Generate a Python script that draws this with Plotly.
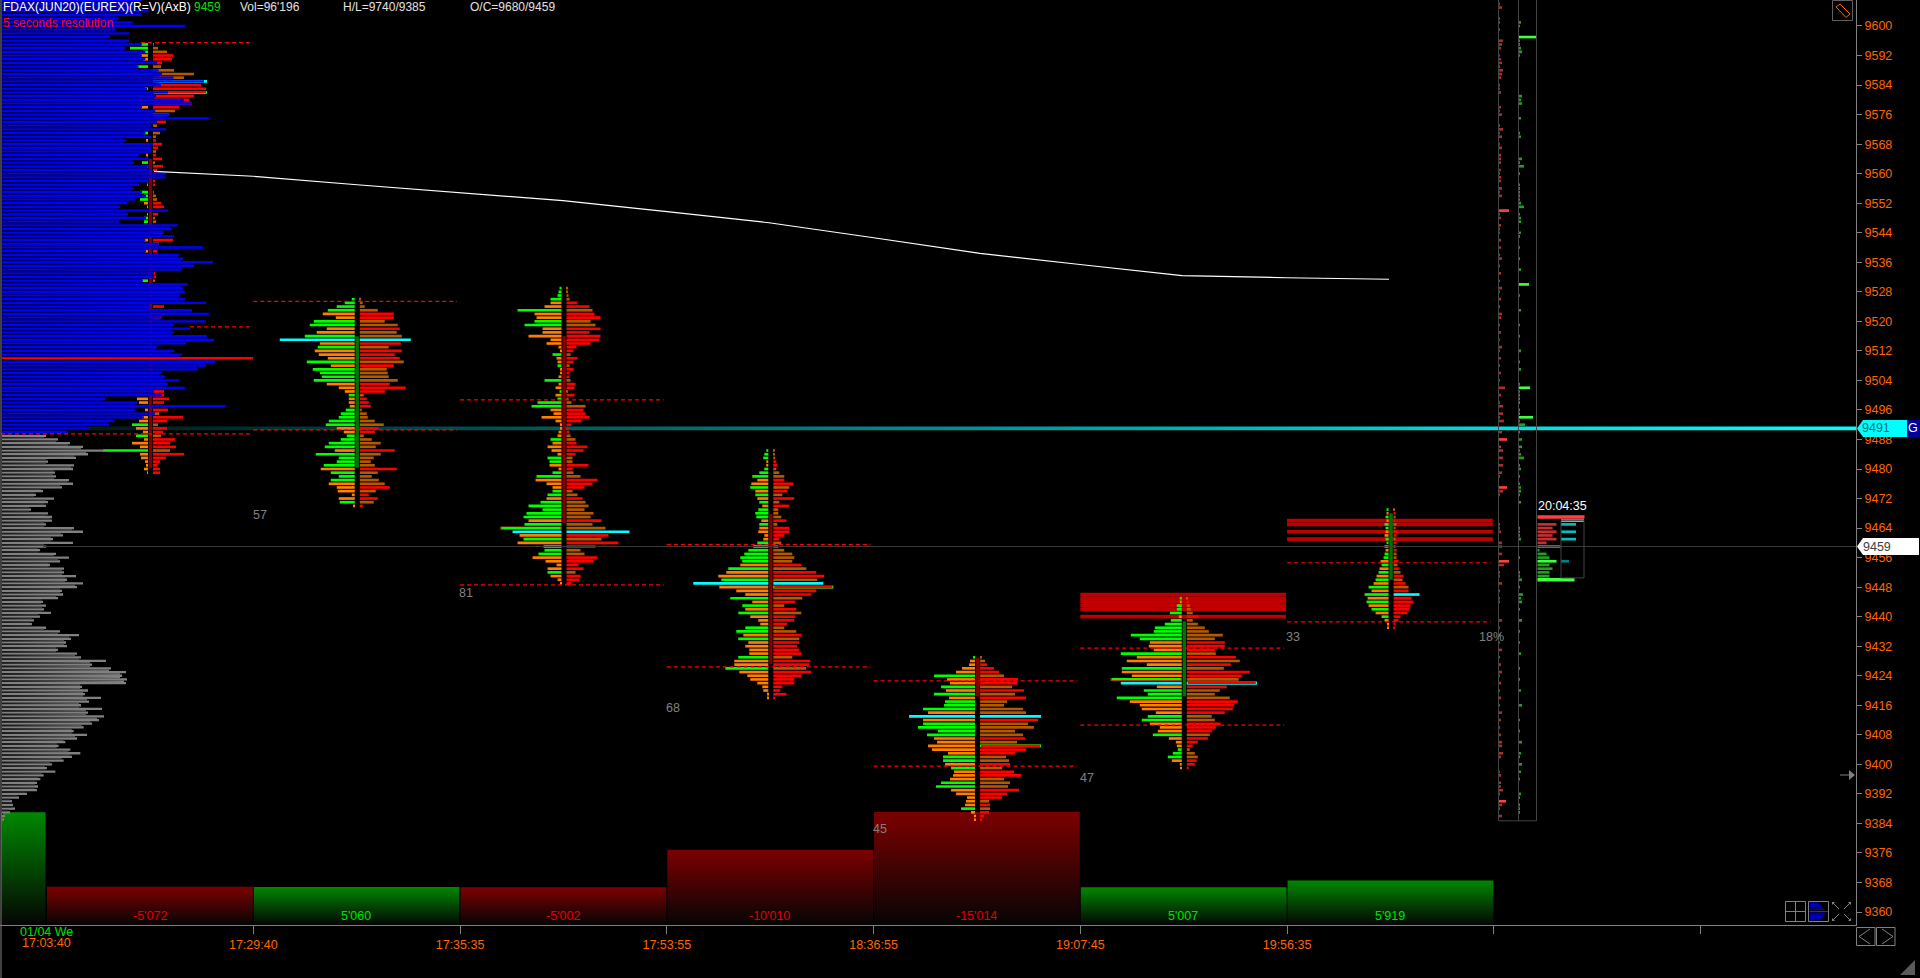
import plotly.graph_objects as go

W, H = 1920, 978
FONT = "Liberation Sans"
ORANGE = "#ff6600"
GREY = "#808080"

# time axis, one slot per profile
SLOT_START = 46.5
SLOT_W = 206.76
AXIS_X = 1856
TIME_LABELS = ["17:29:40", "17:35:35", "17:53:55", "18:36:55", "19:07:45", "19:56:35", "", ""]
PRICE_TICKS = list(range(9360, 9601, 8))

# delta histogram along the bottom (first one is the cut off session before the first slot)
DELTA_VALUES = [14990, -5072, 5060, -5002, -10010, -15014, 5007, 5919]
DELTA_LABELS = ["", "-5'072", "5'060", "-5'002", "-10'010", "-15'014", "5'007", "5'919"]

# session volume profile on the left, top row is 9607
HIST_TOP = 9607
HIST_BLUE = [420, 400, 400, 440, 420, 350, 393, 550, 340, 381, 324, 381, 420, 370, 430, 420, 430, 465, 410, 470,
             480, 515, 606, 477, 435, 498, 462, 546, 570, 420, 460, 504, 621, 465, 447, 492, 430, 447, 372, 453,
             447, 447, 411, 440, 396, 440, 447, 492, 492, 440, 411, 396, 420, 432, 400, 375, 354, 498, 378, 432,
             351, 528, 510, 486, 516, 430, 470, 603, 432, 531, 543, 633, 576, 540, 456, 456, 423, 558, 543, 549,
             534, 549, 612, 447, 570, 621, 480, 612, 516, 564, 516, 615, 636, 552, 465, 516, 540, 753, 639, 612,
             588, 477, 489, 531, 498, 549, 456, 480, 310, 405, 669, 400, 459, 426, 333, 321, 264, 198]
HIST_GREY = [132, 168, 204, 243, 309, 258, 222, 138, 216, 213, 159, 162, 201, 213, 180, 123, 102, 156, 138, 132,
             87, 138, 150, 150, 132, 216, 243, 183, 153, 213, 132, 114, 162, 201, 174, 144, 186, 186, 222, 195,
             243, 225, 180, 183, 168, 123, 132, 126, 147, 114, 96, 90, 132, 174, 231, 207, 192, 195, 168, 225,
             237, 312, 270, 327, 372, 360, 375, 372, 240, 258, 249, 297, 261, 237, 300, 258, 306, 291,
             270, 245, 215, 255, 225, 190, 170, 205, 235, 210, 185, 150, 135, 160, 125, 115,
             105, 108, 105, 75, 51, 30, 33, 39, 24, 9, 6]
HIST_POC = 9510

# footprint profiles. bid: + green, - orange. ask: + brown, - red
P0_TOP = 9595
P0_BID = [7, 18, 5, -7, -5, 0, 11, 0, 0, 0, 0, 0, -3, 0, 0, 0, 0, -7, 0, 0,
          0, 0, 0, 0, 5, 0, -2, 0, 0, 0, -2, -1, 6, -1, 0, 0, 0, -1, -1, 0,
          8, 4, 8, -4, -1, 0, -1, 4, 4, 0, 0, 0, 0, -4, 0, 0, -3, 0, 0, 0,
          0, 0, 0, 0, 6, 0, 0, 0, 0, 0, 0, 0, 0, 0, 0, 0, 0, 0, 0, 0,
          0, 0, 0, 0, 0, 0, 0, 0, 0, 0, 0, 0, 0, 0, 0, 0, -11, -9, 0, -3,
          0, -6, -9, 16, -12, -5, 12, -4, -16, -8, 45, -8, -7, -3, -2, -4, -1]
P0_ASK = [1, 5, 14, -20, -19, -9, 8, 21, 41, 31, 54, -48, -53, 54, -41, -36, -39, -26, 22, 16,
          0, -13, 4, 0, 7, 3, -3, -9, -5, 3, -3, -9, 2, -10, -4, 0, 0, -2, -2, 0,
          1, 3, 4, -8, -11, 0, -5, 2, 3, 0, 0, -10, 0, -20, 6, 0, -4, 0, 0, 0,
          0, 0, -2, -3, 2, 0, 0, 0, 0, 0, 0, -11, 0, 0, -8, 0, 0, 0, 0, 0,
          0, 0, -3, 0, 0, 0, 0, 0, 0, 0, 0, 0, 0, 0, -11, -11, -16, -11, 0, -15,
          6, -30, -14, 5, -14, -10, 8, -22, -17, -23, 17, -31, -13, -7, -4, -7, -7]

P1_TOP = 9526
P1_BID = [3, 10, 18, 27, -32, -19, 41, 45, -28, -38, 50, 75, -35, 37, -40, -36, -27, 48, -24, 42,
          35, 33, 41, -28, -16, -10, 6, -6, -6, -5, 9, 14, 16, 26, 29, -18, -11, 8, 14, 26,
          30, -20, 39, 16, 18, 31, -34, 24, 16, 24, -26, -18, -17, -3, -16, 15, -1]
P1_ASK = [1, 3, 5, 18, -34, -34, 25, 38, -40, 37, 42, 51, -41, 29, -42, -35, -40, 44, -34, 27,
          28, 29, 38, -30, -46, -25, 4, -7, -9, -11, 2, 7, 8, 15, 24, -19, -15, 4, 12, 21,
          16, -35, 21, 14, 11, 15, -37, 18, 12, 19, 25, -30, 16, -9, -18, 14, -3]

P2_TOP = 9529
P2_BID = [2, 3, 4, 11, -11, -17, 44, -27, -25, 27, 37, -19, -19, -33, -11, -15, -3, -1, 9, -5,
          -4, 4, -1, -1, -3, 17, -3, -6, 2, -6, 4, 24, 30, -11, -8, -20, -6, -1, -1, -3,
          -4, 11, -9, -14, -10, -4, 14, 12, -12, -3, 9, 25, -26, -15, -9, 9, 14, -15, 21, 33,
          19, 35, 38, -33, 37, 61, 49, -42, 38, -44, -18, 17, 23, -29, -16, -5, -14, 14, -11, -4, -1]
P2_ASK = [1, 1, 2, 3, -11, -23, 26, -28, -34, 24, 29, -34, -23, -34, -33, -24, -10, -7, 4, -11,
          -7, 3, -7, -3, -3, 4, -9, -8, 1, -8, 2, 5, 19, -17, -19, -23, -15, -5, -2, -3,
          4, 9, -10, -21, -17, -9, 6, 6, -22, -6, 7, 14, -31, -26, -18, 6, 11, -16, 19, 22,
          18, 27, 24, -35, 26, 39, 63, -42, 35, -52, -29, 14, 18, -31, -27, -12, -17, 9, -14, -13, -5]

P3_TOP = 9485
P3_BID = [2, 4, 5, -2, -2, 4, 9, 16, -11, -17, 18, -13, 13, -11, 9, -6, 10, 13, 12, -7,
          9, -9, -10, -4, -5, 11, 15, 20, 24, 28, 26, -28, 40, -42, -50, 47, 75, -49, -32, -23,
          38, -16, 26, -23, 30, -18, -10, -8, 23, 32, -25, 30, -20, -23, -19, -19, 30, -34, -34, 43,
          -29, -21, -18, -11, -6, -5, -1, -1]
P3_ASK = [1, 1, 2, -3, -4, 3, 6, 11, -11, -20, 16, -14, 9, -21, 6, -16, 5, 5, 8, -13,
          4, -16, -16, -11, -6, 8, 5, 11, 19, 21, 19, -28, 33, -43, -51, 44, 50, -60, -43, -38,
          29, -22, 11, -23, 28, -22, -21, -14, 11, 23, -28, 26, -26, -24, -26, -28, 19, -37, -36, 33,
          -38, -28, -21, -21, -9, -7, -13, -2]

P4_TOP = 9429
P4_BID = [2, -5, -6, -13, -19, 41, -28, -25, 34, -29, 41, -26, 30, 31, 52, -47, 66, -52, 52, 57,
          37, 48, -41, -38, -47, -43, -27, 32, 32, -30, 24, -21, -22, -25, 34, 39, -24, -19, -8, -9,
          -10, 14, -4, -1, -1]
P4_ASK = [1, 5, -7, -14, -19, 24, -38, -37, 32, -44, 35, -46, 27, 24, 43, 46, 61, -58, 48, 54,
          35, 43, -45, 37, -61, -46, -35, 26, 29, -30, 22, -34, -41, 24, 30, 28, -39, -27, -22, 9,
          -10, 10, -9, -4, -2]

P5_TOP = 9445
P5_BID = [2, -2, 5, 5, 12, -3, 11, 17, 27, 28, 51, 42, -32, -33, -28, 61, -45, -55, -35, 60,
          -60, -50, 71, 61, -25, 38, 34, 65, -52, -42, -40, -26, 34, 40, -32, -22, -24, 29, -13, -6,
          -5, 4, 9, 14, -10, -2, -1]
P5_ASK = [1, -2, 3, 4, 6, -12, 6, 11, 18, 22, 36, 28, -38, -38, -28, 29, -49, 53, -44, 37,
          -63, -55, 52, 70, -40, 33, 28, 43, -51, -47, -46, -38, 25, 28, -34, -29, -25, 23, -21, -11,
          -6, 3, 8, 11, -10, -8, -2]

P6_TOP = 9469
P6_BID = [2, -2, 3, -2, 4, 3, -3, -4, 3, 2, 4, -3, 4, 5, -8, 7, -9, 10, -12, 13,
          -15, 20, -17, 24, -21, 22, -20, 17, -13, 7, -4, -1, -1]
P6_ASK = [1, -2, 2, -2, 3, 2, -4, -3, 2, -3, 2, -3, 3, 3, -5, 4, -6, 7, -10, 9,
          -12, 15, -15, 26, -18, -20, -17, -16, -14, -7, -5, -2, -1]

# candle body of each slot: open, close
OPENS = [9564, 9480.4, 9516, 9467.8, 9428.9, 9418.4, 9450]
CLOSES = [9480.3, 9515.9, 9465.3, 9427.2, 9418.4, 9438.7, 9468]
# highest volume row, row with the outlined ask/bid
POC_ROWS = [10, 11, 66, 36, 16, 23, 23]
POC_BID_CYAN = [False, True, True, True, True, True, False]
OUTLINE_BID = [None, None, 65, None, None, 22, None]
OUTLINE_ASK = [13, None, None, 37, 24, 23, None]

# value area lines
VA_PRICES = [9595.5, 9518.5, 9489.5, 9525.4, 9490.6, 9498.7, 9448.6, 9459.5, 9426.4, 9422.6, 9399.5, 9431.5, 9410.6, 9454.6, 9438.6]
VA_SLOTS = [0, 0, 0, 1, 1, 2, 2, 3, 3, 4, 4, 5, 5, 6, 6]
VA_X0 = [141, 190, 1, None, None, None, None, None, None, None, None, None, None, None, None]

# naked POC bands
BAND_SLOTS = [5, 5, 5, 5, 5, 5, 6, 6, 6, 6]
BAND_PRICES = [9446, 9445, 9444, 9443, 9442, 9440, 9466, 9465, 9463, 9461]

# long average line
AVG_X = [154, 253, 357, 456, 563, 667, 769, 872, 980, 1080, 1182, 1286, 1389]
AVG_Y = [9560.6, 9559.3, 9557.0, 9555.0, 9552.7, 9549.7, 9546.7, 9542.7, 9538.4, 9535.4, 9532.4, 9531.8, 9531.4]

LAST_PRICE = 9459
CYAN_PRICE = 9491

# daily profile on the right (two columns)
SELL_PRICES = [9606, 9605, 9602, 9601, 9599, 9596, 9595, 9594, 9592, 9591, 9590, 9589, 9588, 9587, 9586, 9584, 9583, 9582, 9578, 9577,
               9576, 9573, 9572, 9571, 9570, 9568, 9567, 9565, 9564, 9563, 9561, 9560, 9559, 9558, 9556, 9555, 9554, 9550, 9549, 9548,
               9546, 9545, 9544, 9542, 9540, 9538, 9537, 9535, 9533, 9531, 9529, 9528, 9526, 9524, 9522, 9521, 9519, 9517, 9515, 9513,
               9512, 9510, 9508, 9506, 9504, 9502, 9500, 9498, 9497, 9495, 9494, 9493, 9490, 9488, 9486, 9485, 9483, 9481, 9479, 9478,
               9475, 9474, 9473, 9465, 9464, 9463, 9460, 9459, 9457, 9455, 9454, 9452, 9451, 9449, 9447, 9445, 9444, 9439, 9437, 9435,
               9433, 9431, 9429, 9427, 9425, 9424, 9422, 9420, 9418, 9416, 9414, 9412, 9410, 9408, 9406, 9405, 9403, 9402, 9398, 9397,
               9395, 9394, 9393, 9392, 9390, 9389, 9388, 9386]
SELL_VOLS = [1, 3, 1, 1, 1, 4, 3, 2, 1, 2, 3, 1, 4, 3, 2, 1, 1, 2, 2, 1,
             3, 1, 4, 1, 3, 1, 3, 2, 2, 2, 2, 1, 2, 2, 3, 1, 3, 10, 1, 2,
             2, 1, 1, 2, 2, 1, 3, 1, 2, 1, 3, 1, 2, 1, 3, 2, 1, 2, 1, 3,
             1, 2, 1, 2, 1, 6, 2, 1, 4, 4, 1, 5, 3, 8, 2, 4, 4, 4, 3, 1,
             8, 4, 1, 1, 1, 2, 3, 3, 3, 10, 5, 1, 1, 3, 1, 1, 1, 3, 1, 2,
             1, 3, 1, 2, 3, 1, 2, 1, 2, 1, 3, 2, 1, 2, 3, 3, 4, 2, 1, 2,
             2, 2, 4, 1, 7, 3, 1, 3]
BUY_PRICES = [9601, 9600, 9597, 9596, 9595, 9594, 9593, 9592, 9581, 9580, 9579, 9575, 9571, 9570, 9564, 9563, 9562, 9560, 9557, 9556,
              9555, 9554, 9553, 9552, 9551, 9549, 9548, 9547, 9544, 9543, 9540, 9537, 9534, 9530, 9527, 9523, 9519, 9516, 9512, 9509,
              9507, 9503, 9502, 9501, 9500, 9499, 9498, 9496, 9495, 9494, 9493, 9492, 9490, 9488, 9486, 9485, 9484, 9483, 9481, 9480,
              9478, 9476, 9475, 9474, 9473, 9471, 9464, 9463, 9462, 9461, 9456, 9452, 9451, 9450, 9448, 9446, 9445, 9444, 9442, 9439,
              9436, 9433, 9430, 9426, 9423, 9420, 9416, 9412, 9409, 9406, 9403, 9402, 9400, 9398, 9396, 9392, 9391, 9389, 9388, 9387]
BUY_VOLS = [2, 1, 17, 1, 1, 2, 3, 1, 3, 2, 3, 2, 1, 2, 3, 1, 5, 1, 1, 1,
            1, 1, 1, 2, 5, 1, 2, 2, 2, 1, 1, 1, 2, 10, 1, 2, 1, 1, 2, 1,
            2, 1, 11, 1, 1, 1, 1, 1, 1, 14, 1, 6, 1, 3, 3, 1, 2, 5, 1, 2,
            1, 1, 2, 2, 1, 2, 1, 1, 1, 2, 1, 1, 1, 3, 1, 4, 2, 3, 1, 3,
            1, 1, 2, 1, 1, 2, 3, 1, 1, 3, 2, 1, 3, 2, 1, 2, 1, 1, 1, 1]

# last candle detail box after the columns
BOX_SELL_PRICES = [9465, 9464, 9463, 9462, 9461, 9460]
BOX_SELL_VOLS = [19, 15, 19, 15, 19, 9]
BOX_BUY_PRICES = [9458, 9457, 9456, 9455, 9454, 9453, 9452, 9451]
BOX_BUY_VOLS = [2, 9, 12, 19, 12, 15, 12, 12]
BOX_ASK_PRICES = [9466, 9465, 9463, 9461, 9455]
BOX_ASK_VOLS = [23, 15, 15, 15, 8]

ROW = 0.72
Y_TOP = 9600 + 26 / 3.693
Y_BOTTOM = 9360 - 13 / 3.693
Y_DOMAIN = [(H - 925) / H, 1]


def slot_x(i):
    return SLOT_START + SLOT_W * i


def fx(px):
    return px / W


def fy(py):
    return 1 - py / H


fig = go.Figure()

# delta bars sit on their own axis below everything
edges = [(1, SLOT_START - 1)] + [(slot_x(i) + 0.5, slot_x(i + 1) - 0.5) for i in range(7)]
for (x0, x1), value in zip(edges, DELTA_VALUES):
    top_colour = "#008800" if value > 0 else "#7c0000"
    fig.add_trace(go.Scatter(x=[x0, x1, x1, x0, x0], y=[0, 0, abs(value), abs(value), 0], yaxis="y",
                             mode="lines", line=dict(width=0), fill="toself",
                             fillgradient=dict(type="vertical", colorscale=[[0, "#050505"], [1, top_colour]]),
                             hoverinfo="skip", showlegend=False))

# cyan level brightens to the right, under the footprints
fig.add_trace(go.Scatter(x=[88, AXIS_X, AXIS_X, 88, 88],
                         y=[CYAN_PRICE - 0.5, CYAN_PRICE - 0.5, CYAN_PRICE + 0.5, CYAN_PRICE + 0.5, CYAN_PRICE - 0.5],
                         yaxis="y2", mode="lines", line=dict(width=0), fill="toself",
                         fillgradient=dict(type="horizontal", colorscale=[[0, "#001a1a"], [0.8, "#00dcdc"], [1, "#00ffff"]]),
                         hoverinfo="skip", showlegend=False))


def add_bars(base, width, price, colour, thick=ROW):
    fig.add_trace(go.Bar(orientation="h", x=width, base=base, y=price, width=thick, yaxis="y3",
                         marker=dict(color=colour, line=dict(width=0)), hoverinfo="skip", showlegend=False))


add_bars([slot_x(s) for s in BAND_SLOTS], [SLOT_W - 1] * len(BAND_SLOTS), BAND_PRICES, "#c00000", 1.0)

PROFILES = [(P0_TOP, P0_BID, P0_ASK), (P1_TOP, P1_BID, P1_ASK), (P2_TOP, P2_BID, P2_ASK), (P3_TOP, P3_BID, P3_ASK),
            (P4_TOP, P4_BID, P4_ASK), (P5_TOP, P5_BID, P5_ASK), (P6_TOP, P6_BID, P6_ASK)]

for i, (top, bid, ask) in enumerate(PROFILES):
    centre = slot_x(i) + 104
    mid = (OPENS[i] + CLOSES[i]) / 2
    body = abs(CLOSES[i] - OPENS[i])
    add_bars([centre - 1.7], [3.4], [mid], "#007000" if CLOSES[i] > OPENS[i] else "#800000", [body])

    prices = [top - n for n in range(len(bid))]
    bid_colour = ["#00ff00" if v > 0 else "#ff8000" for v in bid]
    ask_colour = ["#b35900" if v > 0 else "#ff0000" for v in ask]
    poc = POC_ROWS[i]
    if POC_BID_CYAN[i]:
        bid_colour[poc] = "#00ffff"
    ask_colour[poc] = "#00ffff"
    add_bars([centre - 2.5 - abs(v) for v in bid], [abs(v) for v in bid], prices, bid_colour)
    add_bars([centre + 2.5] * len(ask), [abs(v) for v in ask], prices, ask_colour)
    # outlined rows: thin inner stripe over the bar
    if OUTLINE_BID[i] is not None:
        n = OUTLINE_BID[i]
        w = abs(bid[n])
        add_bars([centre - 2.5 - w], [w], [prices[n]], "#ff0000")
        add_bars([centre - 2.5 - w + 1], [w - 2], [prices[n]], "#00ff00", 0.25)
    if OUTLINE_ASK[i] is not None:
        n = OUTLINE_ASK[i]
        w = abs(ask[n])
        add_bars([centre + 2.5], [w], [prices[n]], "#00ff00" if n != poc else "#00ffff")
        add_bars([centre + 3.5], [w - 2], [prices[n]], "#ff0000", 0.25)

# session volume profile goes over the first footprint
hist = [v / 3 for v in HIST_BLUE + HIST_GREY]
hist_prices = [HIST_TOP - n for n in range(len(hist))]
n_blue = len(HIST_BLUE)
add_bars([2] * len(hist), hist, hist_prices,
         ["#ff0000" if p == HIST_POC else "#0000ff" if n < n_blue else "#808080" for n, p in enumerate(hist_prices)], 0.62)

# dark rows between the bright ones fade out to the left, they also hide the first candle
for first, last, fade_end, dark, colour in [(0, n_blue, 250, "#000048", "#0000e0"), (n_blue, len(hist) - 1, 125, "#181818", "#808080")]:
    gap_x, gap_y = [], []
    for n in range(first, last):
        w = min(hist[n], hist[n + 1])
        p = hist_prices[n] - 0.5
        gap_x += [2, w, w, 2, 2, None]
        gap_y += [p - 0.2, p - 0.2, p + 0.2, p + 0.2, p - 0.2, None]
    fig.add_trace(go.Scatter(x=gap_x, y=gap_y, yaxis="y3", mode="lines", line=dict(width=0), fill="toself",
                             fillgradient=dict(type="horizontal", start=2, stop=fade_end,
                                               colorscale=[[0, dark], [1, colour]]),
                             hoverinfo="skip", showlegend=False))

# right hand columns
COL_SELL, COL_BUY, COL_END = 1498.5, 1518.5, 1537.5
add_bars([COL_SELL + 0.5] * len(SELL_VOLS), SELL_VOLS, SELL_PRICES, ["#ff4040" if v >= 7 else "#aa2c2c" for v in SELL_VOLS])
add_bars([COL_BUY + 0.5] * len(BUY_VOLS), BUY_VOLS, BUY_PRICES, ["#40ff40" if v >= 7 else "#20a020" for v in BUY_VOLS])
add_bars([COL_END] * len(BOX_SELL_VOLS), BOX_SELL_VOLS, BOX_SELL_PRICES, "#c43030")
add_bars([COL_END], [47], [9467], "#ff4040", 1.0)
add_bars([COL_END], [23], [9459], "#ff4040")
add_bars([COL_END] * len(BOX_BUY_VOLS), BOX_BUY_VOLS, BOX_BUY_PRICES, ["#40ff40" if v == 19 else "#20a020" for v in BOX_BUY_VOLS])
add_bars([COL_END], [37], [9450], "#40ff40", 1.0)
add_bars([1561] * len(BOX_ASK_VOLS), BOX_ASK_VOLS, BOX_ASK_PRICES,
         ["#00ffff", "#00c0c0", "#00c0c0", "#00c0c0", "#008080"])

# value area dashes
va_x, va_y = [], []
for price, slot, x0 in zip(VA_PRICES, VA_SLOTS, VA_X0):
    start = slot_x(slot) if x0 is None else x0
    va_x += [start, slot_x(slot) + SLOT_W - 3, None]
    va_y += [price, price, None]
fig.add_trace(go.Scatter(x=va_x, y=va_y, yaxis="y3", mode="lines", line=dict(color="#ff0000", width=1.2, dash="4px,3px"),
                         hoverinfo="skip", showlegend=False))

fig.add_trace(go.Scatter(x=AVG_X, y=AVG_Y, yaxis="y3", mode="lines", line=dict(color="#ffffff", width=1.2),
                         hoverinfo="skip", showlegend=False))
fig.add_trace(go.Scatter(x=[43, AXIS_X], y=[LAST_PRICE, LAST_PRICE], yaxis="y3", mode="lines",
                         line=dict(color="#3a3a3a", width=1), hoverinfo="skip", showlegend=False))
# column frames
fig.add_trace(go.Scatter(x=[COL_SELL, COL_SELL, COL_END - 1, COL_END - 1, None, COL_BUY, COL_BUY, None, 1561, 1561, 1584, 1584, 1561],
                         y=[Y_TOP, 9384.7, 9384.7, Y_TOP, None, Y_TOP, 9384.7, None, 9466, 9450.5, 9450.5, 9466, 9466],
                         yaxis="y3", mode="lines", line=dict(color="#444444", width=1), hoverinfo="skip", showlegend=False))

shapes = []
annotations = []


def text(px, py, s, colour, size=12.5, anchor="left"):
    # annotations pad their box by about two pixels
    shift = -2 if anchor == "left" else 0
    annotations.append(dict(x=fx(px + shift), y=fy(py), xref="paper", yref="paper", text=s, showarrow=False, xanchor=anchor,
                            yanchor="middle", align=anchor, font=dict(family=FONT, size=size, color=colour)))


def line(x0, y0, x1, y1, colour=GREY, width=1):
    shapes.append(dict(type="line", xref="paper", yref="paper", x0=fx(x0), y0=fy(y0), x1=fx(x1), y1=fy(y1),
                       line=dict(color=colour, width=width)))


def rect(x0, y0, x1, y1, edge=GREY, fill=None):
    shapes.append(dict(type="rect", xref="paper", yref="paper", x0=fx(x0), y0=fy(y0), x1=fx(x1), y1=fy(y1),
                       line=dict(color=edge, width=1 if edge else 0), fillcolor=fill))


def poly(points, fill, edge=None):
    d = "M" + " L".join(f"{fx(a):.5f},{fy(b):.5f}" for a, b in points) + " Z"
    shapes.append(dict(type="path", xref="paper", yref="paper", path=d, fillcolor=fill,
                       line=dict(color=edge, width=1) if edge else dict(width=0)))


# header
text(3, 7, "FDAX(JUN20)(EUREX)(R=V)(AxB)", "#ffffff", 12)
text(194, 7, "9459", "#00e000", 12)
text(240, 7, "Vol=96'196", "#e0e0e0", 12)
text(343, 7, "H/L=9740/9385", "#e0e0e0", 12)
text(470, 7, "O/C=9680/9459", "#e0e0e0", 12)
text(3, 23, "5 seconds resolution", "#ff0000", 12)

# delta labels
for i, label in enumerate(DELTA_LABELS):
    if label:
        text(slot_x(i - 1) + 103, 916, label, "#e00000" if DELTA_VALUES[i] < 0 else "#00e000", anchor="center")
text(46, 932, "01/04 We", "#00e000", anchor="center")
text(46, 943, "17:03:40", ORANGE, anchor="center")

# grey percentages
for px, py, s in [(253, 515, "57"), (459, 593, "81"), (666, 708, "68"), (873, 829, "45"), (1080, 778, "47"),
                  (1286, 637, "33"), (1479, 637, "18%")]:
    text(px, py, s, GREY)

text(1538, 506, "20:04:35", "#ffffff")

# price flags
poly([(1857, 428.5), (1863, 420), (1907, 420), (1907, 437), (1863, 437)], "#00ffff")
rect(1907, 420, 1919, 437, None, "#00009a")
text(1862, 428.5, "9491", "#007070")
text(1913, 428.5, "G", "#ffffff", anchor="center")
poly([(1857, 546.5), (1863, 538), (1919, 538), (1919, 555), (1863, 555)], "#ffffff")
text(1863, 546.5, "9459", "#404040")

# left edge and window widgets
line(1, 0, 1, H)
rect(1832.5, 0.5, 1852.5, 20.5, "#606060")
poly([(1836, 7), (1840, 4), (1850, 14), (1846, 17.5)], "rgba(0,0,0,0)", "#ff6600")
rect(1785.5, 901.5, 1805.5, 921.5)
line(1795.5, 901.5, 1795.5, 921.5)
line(1785.5, 911.5, 1805.5, 911.5)
rect(1808.5, 901.5, 1828.5, 921.5)
for n, w in enumerate([8, 10, 12, 14, 15, 19, 16, 15, 14, 12, 10]):
    colour = "#ff0000" if n == 5 else "#0000ff"
    rect(1809.5, 902.5 + n * 1.7, 1809.5 + w, 903.3 + n * 1.7, None, colour)
for xa, xb, ya, yb in [(1832, 1839, 902, 909), (1851, 1844, 902, 909), (1832, 1839, 921, 914), (1851, 1844, 921, 914)]:
    line(xa, ya, xb, yb)
    poly([(xa, ya), (xa + (3 if xb > xa else -3), ya), (xa, ya + (3 if yb > ya else -3))], GREY)
rect(1856.5, 927.5, 1875, 945.5)
rect(1876.5, 927.5, 1895, 945.5)
line(1870, 929, 1859, 936.5)
line(1859, 936.5, 1870, 944)
line(1882, 929, 1893, 936.5)
line(1893, 936.5, 1882, 944)
line(1840, 775, 1850, 775)
poly([(1849, 770), (1855, 775), (1849, 780)], GREY)
poly([(1900, 975), (1915, 960), (1915, 975)], "#5a5a5a")

axis_common = dict(domain=Y_DOMAIN, showgrid=False, zeroline=False, fixedrange=True)
fig.update_layout(
    width=W, height=H, autosize=False,
    margin=dict(l=0, r=0, t=0, b=0, pad=0),
    paper_bgcolor="#000000", plot_bgcolor="#000000",
    barmode="overlay", showlegend=False,
    font=dict(family=FONT, size=12.5, color=ORANGE),
    xaxis=dict(domain=[0, AXIS_X / W], range=[0, AXIS_X], anchor="y", showgrid=False, zeroline=False, showline=True,
               linecolor=GREY, linewidth=1, ticks="outside", ticklen=8, tickcolor=GREY, tickwidth=1,
               tickmode="array", tickvals=[slot_x(i) for i in range(1, 9)], ticktext=TIME_LABELS,
               tickfont=dict(family=FONT, size=12.5, color=ORANGE), fixedrange=True),
    yaxis=dict(range=[0, 925 * 15014 / 113], visible=False, **axis_common),
    yaxis2=dict(range=[Y_BOTTOM, Y_TOP], overlaying="y", visible=False, **axis_common),
    yaxis3=dict(range=[Y_BOTTOM, Y_TOP], overlaying="y", anchor="x", side="right", showline=True, linecolor=GREY, linewidth=1,
                ticks="outside", ticklen=5, tickcolor=GREY, tickwidth=1, tickmode="array", tickvals=PRICE_TICKS,
                ticktext=[str(v) for v in PRICE_TICKS], tickfont=dict(family=FONT, size=12.5, color=ORANGE), **axis_common),
    shapes=shapes, annotations=annotations,
)

fig.write_html("out.html", config={"displayModeBar": False},
               post_script="document.body.style.margin='0';document.body.style.background='#000';document.body.style.overflow='hidden';")
